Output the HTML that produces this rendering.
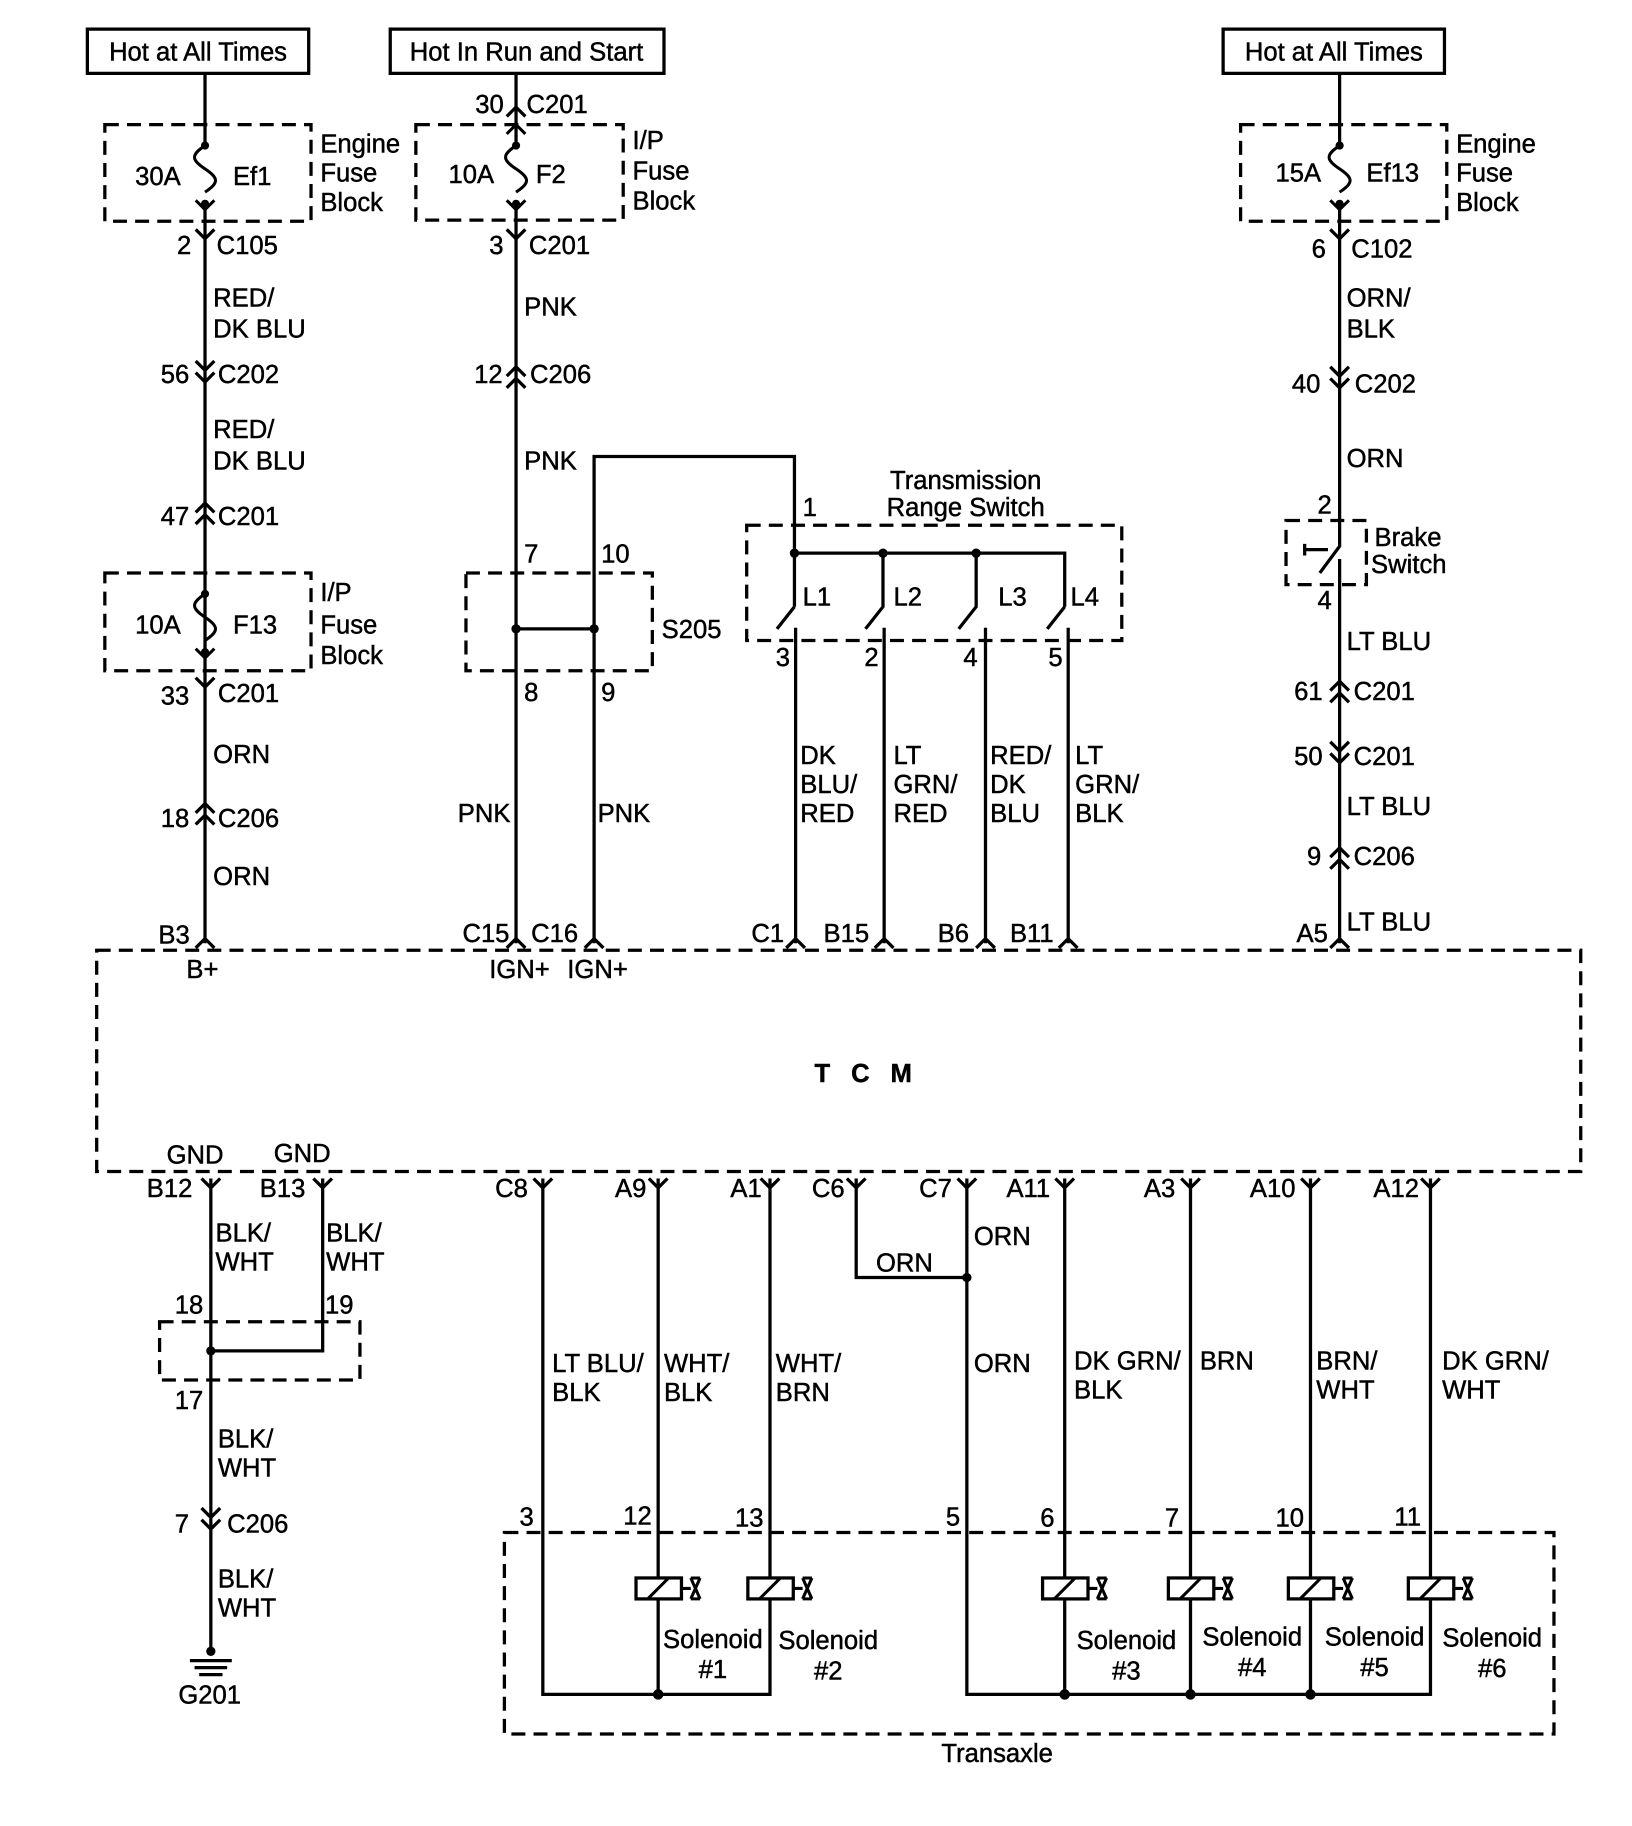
<!DOCTYPE html>
<html><head><meta charset="utf-8"><style>
html,body{margin:0;padding:0;background:#fff;}
svg{display:block;}
text{font-family:"Liberation Sans",Arial,sans-serif;font-size:22px;fill:#000;stroke:#000;stroke-width:0.4;}
</style></head><body>
<svg width="1632" height="1826" viewBox="0 0 1401 1568" preserveAspectRatio="none" xmlns="http://www.w3.org/2000/svg">
<defs>
<g id="dn"><path d="M-8,-8 L0,0 L8,-8" fill="none" stroke="#000" stroke-width="2.8"/></g>
<g id="up"><path d="M-8,8 L0,0 L8,8" fill="none" stroke="#000" stroke-width="2.8"/></g>
<g id="sol"><rect x="-19" y="-9" width="39" height="18" fill="#fff" stroke="#000" stroke-width="2.8"/><path d="M-9,9 L9,-9 M20,0 L28,0 M28,-9 L36,9 M36,-9 L28,9 M28,-9 L36,-9 M28,9 L36,9" stroke="#000" stroke-width="2.6" fill="none"/></g>
<g id="fuse"><circle cx="0" cy="0" r="3.5"/><path d="M0,0 C-12,8 -12,12 0,20 C12,28 12,32 0,40" fill="none" stroke="#000" stroke-width="2.6"/><circle cx="0" cy="50" r="3.5"/><path d="M-8,47 L0,55 L8,47" fill="none" stroke="#000" stroke-width="2.6"/></g>
</defs>
<g stroke="#000" stroke-width="2.8" fill="none">
<rect x="75" y="25" width="190" height="38"/>
<rect x="335" y="25" width="235" height="38"/>
<rect x="1050" y="25" width="190" height="38"/>
<g stroke-dasharray="12,7">
<rect x="90" y="107" width="177" height="83"/>
<rect x="357" y="107" width="178" height="82"/>
<rect x="1065" y="107" width="177" height="83"/>
<rect x="90" y="492" width="177" height="84"/>
<rect x="400" y="492" width="160" height="84"/>
<rect x="641" y="451" width="322" height="99"/>
<rect x="1104" y="447" width="69" height="55"/>
<rect x="83" y="816" width="1274" height="190"/>
<rect x="137" y="1135" width="172" height="50"/>
<rect x="433" y="1316" width="901" height="173"/>
</g>
<path d="M176,63 V125 M176,175 V810"/>
<path d="M443,63 V125 M443,175 V810 M510,810 V392 H682 V521 M682,521 L667,540 M683,539 V810"/>
<path d="M682,475 H914 V521 M758,475 V521 L743,540 M759,539 V810 M838,475 V521 L823,540 M846,539 V810 M914,521 L899,540 M917,539 V810"/>
<path d="M443,540 H510"/>
<path d="M1150,63 V125 M1150,175 V469 L1133,492 M1150,480 V810"/>
<path d="M1120,467 V477 M1120,472 H1140"/>
<path d="M181,1012 V1418 M277,1012 V1160 H181"/>
<path d="M466,1012 V1455 H661 V1012 M565,1012 V1455"/>
<path d="M735,1012 V1097 H830 M830,1012 V1455 H1228 V1012 M914,1012 V1455 M1022,1012 V1455 M1125,1012 V1455"/>
<path d="M163,1426 H199 M167,1432 H195 M171,1438 H191"/>
</g>
<g fill="#000">
<circle cx="682" cy="475" r="4"/><circle cx="758" cy="475" r="4"/><circle cx="838" cy="475" r="4"/>
<circle cx="443" cy="540" r="4"/><circle cx="510" cy="540" r="4"/>
<circle cx="181" cy="1160" r="4"/><circle cx="830" cy="1097" r="4"/>
<circle cx="565" cy="1455" r="4.5"/><circle cx="914" cy="1455" r="4.5"/><circle cx="1022" cy="1455" r="4.5"/><circle cx="1125" cy="1455" r="4.5"/>
<circle cx="181" cy="1418" r="4"/>
</g>
<use href="#fuse" x="176" y="125"/><use href="#fuse" x="443" y="125"/><use href="#fuse" x="1150" y="125"/><use href="#fuse" x="176" y="510"/>
<path d="M435,115 L443,107 L451,115" fill="none" stroke="#000" stroke-width="2.6"/>
<use href="#dn" x="176" y="205"/><use href="#dn" x="176" y="318"/><use href="#dn" x="176" y="328"/>
<use href="#up" x="176" y="432"/><use href="#up" x="176" y="442"/>
<use href="#dn" x="176" y="590"/><use href="#up" x="176" y="690"/><use href="#up" x="176" y="700"/>
<use href="#up" x="176" y="806"/>
<use href="#up" x="443" y="92"/><use href="#dn" x="443" y="205"/><use href="#up" x="443" y="315"/><use href="#up" x="443" y="325"/>
<use href="#up" x="443" y="806"/><use href="#up" x="510" y="806"/>
<use href="#up" x="683" y="806"/><use href="#up" x="759" y="806"/><use href="#up" x="846" y="806"/><use href="#up" x="917" y="806"/>
<use href="#dn" x="1150" y="205"/><use href="#dn" x="1150" y="323"/><use href="#dn" x="1150" y="333"/>
<use href="#up" x="1150" y="585"/><use href="#up" x="1150" y="595"/>
<use href="#dn" x="1150" y="645"/><use href="#dn" x="1150" y="655"/>
<use href="#up" x="1150" y="728"/><use href="#up" x="1150" y="738"/>
<use href="#up" x="1150" y="806"/>
<use href="#dn" x="181" y="1020"/><use href="#dn" x="277" y="1020"/>
<use href="#dn" x="466" y="1020"/><use href="#dn" x="565" y="1020"/><use href="#dn" x="661" y="1020"/><use href="#dn" x="735" y="1020"/><use href="#dn" x="830" y="1020"/><use href="#dn" x="914" y="1020"/><use href="#dn" x="1022" y="1020"/><use href="#dn" x="1125" y="1020"/><use href="#dn" x="1228" y="1020"/>
<use href="#dn" x="181" y="1303"/><use href="#dn" x="181" y="1313"/>
<use href="#sol" x="565" y="1364"/><use href="#sol" x="661" y="1364"/><use href="#sol" x="914" y="1364"/><use href="#sol" x="1022" y="1364"/><use href="#sol" x="1125" y="1364"/><use href="#sol" x="1228" y="1364"/>
<text x="170" y="52" text-anchor="middle">Hot at All Times</text>
<text x="452" y="52" text-anchor="middle">Hot In Run and Start</text>
<text x="1145" y="52" text-anchor="middle">Hot at All Times</text>
<text x="116" y="159">30A</text><text x="200" y="159">Ef1</text>
<text x="275" y="131">Engine</text><text x="275" y="156">Fuse</text><text x="275" y="181">Block</text>
<text x="385" y="157">10A</text><text x="460" y="157">F2</text>
<text x="543" y="128">I/P</text><text x="543" y="154">Fuse</text><text x="543" y="180">Block</text>
<text x="1095" y="156">15A</text><text x="1173" y="156">Ef13</text>
<text x="1250" y="131">Engine</text><text x="1250" y="156">Fuse</text><text x="1250" y="181">Block</text>
<text x="116" y="544">10A</text><text x="200" y="544">F13</text>
<text x="275" y="516">I/P</text><text x="275" y="544">Fuse</text><text x="275" y="570">Block</text>
<text x="408" y="97">30</text><text x="452" y="97">C201</text>
<text x="152" y="218">2</text><text x="186" y="218">C105</text>
<text x="420" y="218">3</text><text x="454" y="218">C201</text>
<text x="1126" y="221">6</text><text x="1160" y="221">C102</text>
<text x="183" y="263">RED/</text><text x="183" y="290">DK BLU</text>
<text x="138" y="329">56</text><text x="187" y="329">C202</text>
<text x="183" y="376">RED/</text><text x="183" y="403">DK BLU</text>
<text x="138" y="451">47</text><text x="187" y="451">C201</text>
<text x="138" y="605">33</text><text x="187" y="603">C201</text>
<text x="183" y="655">ORN</text>
<text x="138" y="710">18</text><text x="187" y="710">C206</text>
<text x="183" y="760">ORN</text>
<text x="136" y="810">B3</text><text x="160" y="840">B+</text>
<text x="450" y="271">PNK</text>
<text x="407" y="329">12</text><text x="455" y="329">C206</text>
<text x="450" y="403">PNK</text>
<text x="450" y="483">7</text><text x="516" y="483">10</text>
<text x="450" y="602">8</text><text x="516" y="602">9</text>
<text x="568" y="548">S205</text>
<text x="393" y="706">PNK</text><text x="513" y="706">PNK</text>
<text x="397" y="809">C15</text><text x="456" y="809">C16</text>
<text x="420" y="840">IGN+</text><text x="487" y="840">IGN+</text>
<text x="829" y="420" text-anchor="middle">Transmission</text>
<text x="829" y="443" text-anchor="middle">Range Switch</text>
<text x="689" y="443">1</text>
<text x="689" y="520">L1</text><text x="767" y="520">L2</text><text x="857" y="520">L3</text><text x="919" y="520">L4</text>
<text x="666" y="572">3</text><text x="742" y="572">2</text><text x="827" y="572">4</text><text x="900" y="572">5</text>
<text x="687" y="656">DK</text><text x="687" y="681">BLU/</text><text x="687" y="706">RED</text>
<text x="767" y="656">LT</text><text x="767" y="681">GRN/</text><text x="767" y="706">RED</text>
<text x="850" y="656">RED/</text><text x="850" y="681">DK</text><text x="850" y="706">BLU</text>
<text x="923" y="656">LT</text><text x="923" y="681">GRN/</text><text x="923" y="706">BLK</text>
<text x="645" y="809">C1</text><text x="707" y="809">B15</text><text x="805" y="809">B6</text><text x="867" y="809">B11</text>
<text x="1156" y="263">ORN/</text><text x="1156" y="290">BLK</text>
<text x="1109" y="337">40</text><text x="1163" y="337">C202</text>
<text x="1156" y="401">ORN</text>
<text x="1131" y="441">2</text><text x="1131" y="523">4</text>
<text x="1180" y="469">Brake</text><text x="1177" y="492">Switch</text>
<text x="1156" y="558">LT BLU</text>
<text x="1111" y="601">61</text><text x="1162" y="601">C201</text>
<text x="1111" y="657">50</text><text x="1162" y="657">C201</text>
<text x="1156" y="700">LT BLU</text>
<text x="1122" y="743">9</text><text x="1162" y="743">C206</text>
<text x="1156" y="799">LT BLU</text>
<text x="1113" y="809">A5</text>
<text x="750" y="929" text-anchor="middle" font-weight="bold" style="letter-spacing:18px">TCM</text>
<text x="143" y="999">GND</text><text x="235" y="998">GND</text>
<text x="126" y="1028">B12</text><text x="223" y="1028">B13</text>
<text x="425" y="1028">C8</text><text x="528" y="1028">A9</text><text x="627" y="1028">A1</text><text x="697" y="1028">C6</text><text x="789" y="1028">C7</text><text x="864" y="1028">A11</text><text x="982" y="1028">A3</text><text x="1073" y="1028">A10</text><text x="1179" y="1028">A12</text>
<text x="185" y="1066">BLK/</text><text x="185" y="1091">WHT</text>
<text x="280" y="1066">BLK/</text><text x="280" y="1091">WHT</text>
<text x="836" y="1069">ORN</text><text x="752" y="1092">ORN</text>
<text x="150" y="1128">18</text><text x="279" y="1128">19</text><text x="150" y="1210">17</text>
<text x="187" y="1243">BLK/</text><text x="187" y="1268">WHT</text>
<text x="150" y="1316">7</text><text x="195" y="1316">C206</text>
<text x="187" y="1363">BLK/</text><text x="187" y="1388">WHT</text>
<text x="180" y="1463" text-anchor="middle">G201</text>
<text x="474" y="1178">LT BLU/</text><text x="474" y="1203">BLK</text>
<text x="570" y="1178">WHT/</text><text x="570" y="1203">BLK</text>
<text x="666" y="1178">WHT/</text><text x="666" y="1203">BRN</text>
<text x="836" y="1178">ORN</text>
<text x="922" y="1176">DK GRN/</text><text x="922" y="1201">BLK</text>
<text x="1030" y="1176">BRN</text>
<text x="1130" y="1176">BRN/</text><text x="1130" y="1201">WHT</text>
<text x="1238" y="1176">DK GRN/</text><text x="1238" y="1201">WHT</text>
<text x="446" y="1310">3</text><text x="535" y="1309">12</text><text x="631" y="1311">13</text><text x="812" y="1310">5</text><text x="893" y="1311">6</text><text x="1000" y="1311">7</text><text x="1095" y="1311">10</text><text x="1197" y="1310">11</text>
<text x="612" y="1415" text-anchor="middle">Solenoid</text><text x="612" y="1441" text-anchor="middle">#1</text>
<text x="711" y="1416" text-anchor="middle">Solenoid</text><text x="711" y="1442" text-anchor="middle">#2</text>
<text x="967" y="1416" text-anchor="middle">Solenoid</text><text x="967" y="1442" text-anchor="middle">#3</text>
<text x="1075" y="1413" text-anchor="middle">Solenoid</text><text x="1075" y="1439" text-anchor="middle">#4</text>
<text x="1180" y="1413" text-anchor="middle">Solenoid</text><text x="1180" y="1439" text-anchor="middle">#5</text>
<text x="1281" y="1414" text-anchor="middle">Solenoid</text><text x="1281" y="1440" text-anchor="middle">#6</text>
<text x="856" y="1513" text-anchor="middle">Transaxle</text>
</svg>
</body></html>
